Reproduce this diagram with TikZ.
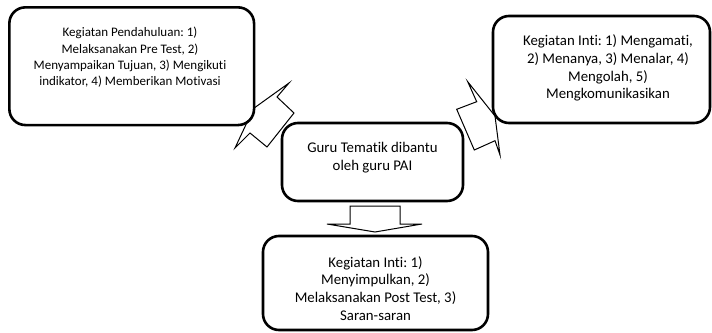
\documentclass[tikz,border=0pt]{standalone}
\usepackage{fontspec}
\setmainfont{Carlito}[Ligatures=NoCommon]
\frenchspacing
\begin{document}
\begin{tikzpicture}[x=1pt,y=-1pt,
  box/.style={draw=black, line width=2.6pt, rounded corners=16pt, fill=white, inner sep=0pt},
  blockarrow/.style={draw=black, line width=1pt, fill=white, line join=miter},
  txtsmall/.style={font=\fontsize{13}{16.4}\selectfont, align=center, inner sep=0pt},
  txt/.style={font=\fontsize{14.8}{17.8}\selectfont, align=center, inner sep=0pt}]
\useasboundingbox (0,0) rectangle (712,332);

% block arrows (drawn first, boxes cover their hidden parts)
\coordinate (la1) at (294,113);
\coordinate (la2) at (277,97);
\coordinate (la3) at (289,83);
\coordinate (la4) at (253.5,108.5);
\coordinate (la5) at (235,148);
\coordinate (la6) at (250,133);
\coordinate (la7) at (267,147);
\draw[blockarrow] (la1) -- (la2) -- (la3) -- (la4) -- (la5) -- (la6) -- (la7) -- cycle;

\coordinate (ra1) at (456.7,109.3);
\coordinate (ra2) at (476.7,101.7);
\coordinate (ra3) at (467.7,81.7);
\coordinate (ra4) at (495,116);
\coordinate (ra5) at (500,155);
\coordinate (ra6) at (495,140.7);
\coordinate (ra7) at (474.3,150);
\draw[blockarrow] (ra1) -- (ra2) -- (ra3) -- (ra4) -- (ra5) -- (ra6) -- (ra7) -- cycle;

\coordinate (da1) at (350,206);
\coordinate (da2) at (400,206);
\coordinate (da3) at (400,224);
\coordinate (da4) at (422,224);
\coordinate (da5) at (375,232);
\coordinate (da6) at (327,224);
\coordinate (da7) at (350,224);
\draw[blockarrow] (da1) -- (da2) -- (da3) -- (da4) -- (da5) -- (da6) -- (da7) -- cycle;

% boxes
\node[box, minimum width=244.7pt, minimum height=117.7pt] (b1) at (131.7,66.2) {};
\node[box, minimum width=217pt, minimum height=107pt] (b2) at (601.5,69.5) {};
\node[box, minimum width=181pt, minimum height=78pt] (bc) at (372.5,162) {};
\node[box, minimum width=225pt, minimum height=94pt] (b4) at (375.5,283) {};

% texts
\node[txtsmall] (t1) at (130,57.5) {Kegiatan Pendahuluan: 1)\\Melaksanakan Pre Test, 2)\\Menyampaikan Tujuan, 3) Mengikuti\\indikator, 4) Memberikan Motivasi};
\node[txt] (t2) at (608,68) {Kegiatan Inti: 1) Mengamati,\\2) Menanya, 3) Menalar, 4)\\Mengolah, 5)\\Mengkomunikasikan};
\node[txt] (tc) at (372.5,157.5) {Guru Tematik dibantu\\oleh guru PAI};
\node[txt] (t4) at (375.5,288.5) {Kegiatan Inti: 1)\\Menyimpulkan, 2)\\Melaksanakan Post Test, 3)\\Saran-saran};
\end{tikzpicture}
\end{document}
